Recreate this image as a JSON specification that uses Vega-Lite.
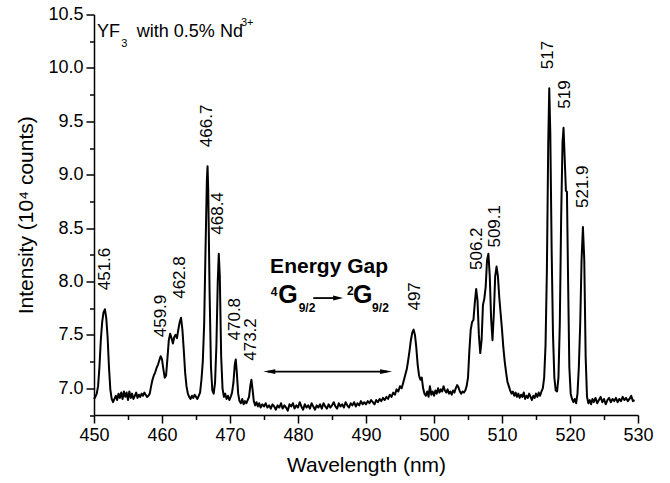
{
  "$schema": "https://vega.github.io/schema/vega-lite/v6.json",
  "width": 544,
  "height": 400.5,
  "autosize": {"type": "none"},
  "padding": {"left": 94, "top": 14.5, "right": 32, "bottom": 68},
  "background": "white",
  "config": {
    "view": {"stroke": null},
    "font": "Liberation Sans",
    "text": {"font": "Liberation Sans", "color": "black"}
  },
  "resolve": {"axis": {"x": "independent", "y": "independent"}},
  "datasets": {
    "spec": [
      {"w":450.0,"i":6.90},{"w":450.2,"i":6.92},{"w":450.4,"i":6.95},{"w":450.6,"i":7.02},{"w":450.8,"i":7.20},{"w":451.0,"i":7.45},{"w":451.2,"i":7.62},{"w":451.4,"i":7.71},{"w":451.6,"i":7.74},{"w":451.8,"i":7.66},{"w":452.0,"i":7.48},{"w":452.2,"i":7.20},{"w":452.4,"i":6.99},{"w":452.6,"i":6.90},{"w":452.8,"i":6.87},
      {"w":453.0,"i":6.90},{"w":453.2,"i":6.93},{"w":453.4,"i":6.89},{"w":453.6,"i":6.95},{"w":453.8,"i":6.91},{"w":454.0,"i":6.96},{"w":454.2,"i":6.90},{"w":454.4,"i":6.97},{"w":454.6,"i":6.92},{"w":454.8,"i":6.96},{"w":455.0,"i":6.89},{"w":455.2,"i":6.97},{"w":455.4,"i":6.91},{"w":455.6,"i":6.95},{"w":455.8,"i":6.90},{"w":456.0,"i":6.93},{"w":456.2,"i":6.96},{"w":456.4,"i":6.91},{"w":456.6,"i":6.94},{"w":456.8,"i":6.92},{"w":457.0,"i":6.95},{"w":457.2,"i":6.93},{"w":457.4,"i":6.96},{"w":457.6,"i":6.94},{"w":457.8,"i":6.92},{"w":458.0,"i":6.93},{"w":458.2,"i":6.95},
      {"w":458.4,"i":7.02},{"w":458.6,"i":7.08},{"w":458.8,"i":7.12},{"w":459.0,"i":7.15},{"w":459.2,"i":7.19},{"w":459.4,"i":7.22},{"w":459.6,"i":7.26},{"w":459.8,"i":7.30},{"w":460.0,"i":7.27},{"w":460.2,"i":7.18},{"w":460.4,"i":7.10},{"w":460.6,"i":7.12},{"w":460.8,"i":7.28},{"w":461.0,"i":7.45},{"w":461.2,"i":7.51},{"w":461.4,"i":7.47},{"w":461.6,"i":7.42},{"w":461.8,"i":7.48},{"w":462.0,"i":7.50},{"w":462.2,"i":7.47},{"w":462.4,"i":7.55},{"w":462.6,"i":7.62},{"w":462.8,"i":7.66},{"w":463.0,"i":7.55},{"w":463.2,"i":7.36},{"w":463.4,"i":7.15},{"w":463.6,"i":7.02},{"w":463.8,"i":6.95},
      {"w":464.0,"i":6.92},{"w":464.2,"i":6.90},{"w":464.4,"i":6.93},{"w":464.6,"i":6.91},{"w":464.8,"i":6.94},{"w":465.0,"i":6.92},{"w":465.2,"i":6.90},{"w":465.4,"i":6.93},{"w":465.6,"i":6.96},{"w":465.8,"i":7.08},{"w":466.0,"i":7.25},{"w":466.2,"i":7.60},{"w":466.4,"i":8.30},{"w":466.6,"i":8.95},{"w":466.7,"i":9.08},{"w":466.8,"i":8.85},{"w":467.0,"i":7.90},{"w":467.2,"i":7.20},{"w":467.4,"i":6.98},{"w":467.6,"i":6.95},{"w":467.8,"i":7.05},{"w":468.0,"i":7.40},{"w":468.2,"i":8.00},{"w":468.35,"i":8.26},{"w":468.5,"i":8.05},{"w":468.7,"i":7.30},{"w":468.9,"i":7.00},
      {"w":469.1,"i":6.92},{"w":469.3,"i":6.95},{"w":469.5,"i":6.90},{"w":469.7,"i":6.93},{"w":469.9,"i":6.89},{"w":470.1,"i":6.92},{"w":470.3,"i":6.96},{"w":470.5,"i":7.05},{"w":470.7,"i":7.22},{"w":470.85,"i":7.27},{"w":471.0,"i":7.15},{"w":471.2,"i":6.95},{"w":471.4,"i":6.88},{"w":471.6,"i":6.86},{"w":471.8,"i":6.90},{"w":472.0,"i":6.85},{"w":472.2,"i":6.88},{"w":472.4,"i":6.86},{"w":472.6,"i":6.89},{"w":472.8,"i":6.92},{"w":473.0,"i":7.03},{"w":473.15,"i":7.08},{"w":473.3,"i":7.00},{"w":473.5,"i":6.88},{"w":473.7,"i":6.84},{"w":473.9,"i":6.87},
      {"w":474.1,"i":6.83},{"w":474.3,"i":6.86},{"w":474.5,"i":6.82},{"w":474.75,"i":6.85},{"w":475.0,"i":6.83},{"w":475.25,"i":6.86},{"w":475.5,"i":6.82},{"w":475.75,"i":6.84},{"w":476.0,"i":6.81},{"w":476.25,"i":6.85},{"w":476.5,"i":6.83},{"w":476.75,"i":6.80},{"w":477.0,"i":6.84},{"w":477.25,"i":6.82},{"w":477.5,"i":6.86},{"w":477.75,"i":6.81},{"w":478.0,"i":6.84},{"w":478.25,"i":6.82},{"w":478.5,"i":6.79},{"w":478.75,"i":6.85},{"w":479.0,"i":6.83},{"w":479.25,"i":6.86},{"w":479.5,"i":6.81},{"w":479.75,"i":6.84},
      {"w":480.0,"i":6.82},{"w":480.25,"i":6.87},{"w":480.5,"i":6.83},{"w":480.75,"i":6.80},{"w":481.0,"i":6.85},{"w":481.25,"i":6.82},{"w":481.5,"i":6.84},{"w":481.75,"i":6.81},{"w":482.0,"i":6.86},{"w":482.25,"i":6.83},{"w":482.5,"i":6.80},{"w":482.75,"i":6.84},{"w":483.0,"i":6.82},{"w":483.25,"i":6.85},{"w":483.5,"i":6.81},{"w":483.75,"i":6.86},{"w":484.0,"i":6.83},{"w":484.25,"i":6.81},{"w":484.5,"i":6.85},{"w":484.75,"i":6.82},{"w":485.0,"i":6.84},{"w":485.25,"i":6.87},{"w":485.5,"i":6.83},{"w":485.75,"i":6.81},
      {"w":486.0,"i":6.86},{"w":486.25,"i":6.83},{"w":486.5,"i":6.85},{"w":486.75,"i":6.82},{"w":487.0,"i":6.87},{"w":487.25,"i":6.84},{"w":487.5,"i":6.82},{"w":487.75,"i":6.86},{"w":488.0,"i":6.84},{"w":488.25,"i":6.87},{"w":488.5,"i":6.83},{"w":488.75,"i":6.86},{"w":489.0,"i":6.84},{"w":489.25,"i":6.88},{"w":489.5,"i":6.85},{"w":489.75,"i":6.87},{"w":490.0,"i":6.85},{"w":490.25,"i":6.88},{"w":490.5,"i":6.86},{"w":490.75,"i":6.89},{"w":491.0,"i":6.87},{"w":491.25,"i":6.85},{"w":491.5,"i":6.89},{"w":491.75,"i":6.87},
      {"w":492.0,"i":6.90},{"w":492.25,"i":6.88},{"w":492.5,"i":6.91},{"w":492.75,"i":6.89},{"w":493.0,"i":6.92},{"w":493.25,"i":6.90},{"w":493.5,"i":6.94},{"w":493.75,"i":6.92},{"w":494.0,"i":6.96},{"w":494.25,"i":6.94},{"w":494.5,"i":6.99},{"w":494.75,"i":6.97},{"w":495.0,"i":7.02},{"w":495.25,"i":7.00},{"w":495.5,"i":7.06},{"w":495.75,"i":7.12},{"w":496.0,"i":7.18},{"w":496.2,"i":7.26},{"w":496.4,"i":7.35},{"w":496.6,"i":7.45},{"w":496.8,"i":7.52},{"w":497.0,"i":7.55},{"w":497.2,"i":7.50},{"w":497.4,"i":7.38},{"w":497.6,"i":7.22},{"w":497.8,"i":7.12},{"w":498.0,"i":7.08},{"w":498.2,"i":7.10},{"w":498.4,"i":7.00},{"w":498.6,"i":6.95},{"w":498.8,"i":6.93},
      {"w":499.0,"i":6.97},{"w":499.2,"i":6.92},{"w":499.4,"i":7.02},{"w":499.6,"i":6.94},{"w":499.8,"i":6.97},{"w":500.0,"i":6.93},{"w":500.2,"i":6.98},{"w":500.4,"i":6.95},{"w":500.6,"i":7.00},{"w":500.8,"i":6.96},{"w":501.0,"i":6.99},{"w":501.2,"i":6.97},{"w":501.4,"i":7.02},{"w":501.6,"i":6.98},{"w":501.8,"i":6.96},{"w":502.0,"i":6.99},{"w":502.2,"i":6.95},{"w":502.4,"i":6.97},{"w":502.6,"i":6.94},{"w":502.8,"i":6.98},{"w":503.0,"i":6.96},{"w":503.2,"i":7.00},{"w":503.4,"i":7.03},{"w":503.6,"i":7.01},{"w":503.8,"i":6.97},{"w":504.0,"i":6.95},{"w":504.2,"i":6.97},{"w":504.4,"i":6.96},{"w":504.6,"i":6.98},{"w":504.8,"i":7.02},
      {"w":505.0,"i":7.10},{"w":505.2,"i":7.35},{"w":505.4,"i":7.55},{"w":505.6,"i":7.62},{"w":505.8,"i":7.64},{"w":506.0,"i":7.80},{"w":506.2,"i":7.93},{"w":506.4,"i":7.82},{"w":506.6,"i":7.50},{"w":506.8,"i":7.33},{"w":507.0,"i":7.45},{"w":507.2,"i":7.78},{"w":507.4,"i":7.84},{"w":507.6,"i":7.95},{"w":507.8,"i":8.20},{"w":508.0,"i":8.26},{"w":508.2,"i":8.05},{"w":508.4,"i":7.65},{"w":508.6,"i":7.45},{"w":508.8,"i":7.70},{"w":509.0,"i":8.05},{"w":509.2,"i":8.14},{"w":509.4,"i":8.05},{"w":509.6,"i":7.85},{"w":509.8,"i":7.70},{"w":510.0,"i":7.55},{"w":510.2,"i":7.38},{"w":510.4,"i":7.25},{"w":510.6,"i":7.15},{"w":510.8,"i":7.06},
      {"w":511.0,"i":7.02},{"w":511.2,"i":6.98},{"w":511.4,"i":6.95},{"w":511.6,"i":6.97},{"w":511.8,"i":6.93},{"w":512.0,"i":6.96},{"w":512.2,"i":6.92},{"w":512.4,"i":6.95},{"w":512.6,"i":6.91},{"w":512.8,"i":6.94},{"w":513.0,"i":6.92},{"w":513.2,"i":6.96},{"w":513.4,"i":6.90},{"w":513.6,"i":6.93},{"w":513.8,"i":6.91},{"w":514.0,"i":6.95},{"w":514.2,"i":6.92},{"w":514.4,"i":6.89},{"w":514.6,"i":6.93},{"w":514.8,"i":6.91},{"w":515.0,"i":6.95},{"w":515.2,"i":6.92},{"w":515.4,"i":6.96},{"w":515.6,"i":6.93},{"w":515.8,"i":6.97},
      {"w":516.0,"i":7.00},{"w":516.2,"i":7.10},{"w":516.4,"i":7.40},{"w":516.6,"i":8.10},{"w":516.8,"i":9.30},{"w":516.95,"i":9.81},{"w":517.1,"i":9.40},{"w":517.3,"i":8.30},{"w":517.5,"i":7.50},{"w":517.7,"i":7.10},{"w":517.9,"i":6.98},{"w":518.1,"i":6.97},{"w":518.3,"i":7.10},{"w":518.5,"i":7.60},{"w":518.7,"i":8.60},{"w":518.9,"i":9.30},{"w":519.05,"i":9.44},{"w":519.25,"i":9.10},{"w":519.4,"i":8.85},{"w":519.55,"i":8.84},{"w":519.7,"i":8.10},{"w":519.9,"i":7.20},
      {"w":520.1,"i":6.95},{"w":520.3,"i":6.90},{"w":520.5,"i":6.87},{"w":520.7,"i":6.90},{"w":520.9,"i":6.86},{"w":521.1,"i":6.95},{"w":521.3,"i":7.20},{"w":521.5,"i":7.60},{"w":521.7,"i":8.20},{"w":521.9,"i":8.51},{"w":522.1,"i":8.20},{"w":522.3,"i":7.30},{"w":522.5,"i":6.92},{"w":522.7,"i":6.86},{"w":522.9,"i":6.89},
      {"w":523.1,"i":6.85},{"w":523.3,"i":6.90},{"w":523.5,"i":6.87},{"w":523.75,"i":6.91},{"w":524.0,"i":6.86},{"w":524.25,"i":6.89},{"w":524.5,"i":6.92},{"w":524.75,"i":6.87},{"w":525.0,"i":6.90},{"w":525.25,"i":6.85},{"w":525.5,"i":6.89},{"w":525.75,"i":6.91},{"w":526.0,"i":6.87},{"w":526.25,"i":6.90},{"w":526.5,"i":6.88},{"w":526.75,"i":6.91},{"w":527.0,"i":6.87},{"w":527.25,"i":6.90},{"w":527.5,"i":6.88},{"w":527.75,"i":6.92},{"w":528.0,"i":6.89},{"w":528.25,"i":6.91},{"w":528.5,"i":6.88},{"w":528.75,"i":6.90},{"w":529.0,"i":6.93},{"w":529.25,"i":6.88},{"w":529.5,"i":6.89}
    ],
    "peaks": [
      {"w":451.6,"i":7.74,"t":"451.6"},{"w":459.9,"i":7.30,"t":"459.9"},{"w":462.7,"i":7.66,"t":"462.8"},{"w":466.6,"i":9.08,"t":"466.7"},{"w":468.25,"i":8.26,"t":"468.4"},{"w":470.75,"i":7.27,"t":"470.8"},{"w":473.05,"i":7.08,"t":"473.2"},{"w":497.2,"i":7.55,"t":"497"},{"w":506.3,"i":7.93,"t":"506.2"},{"w":509.0,"i":8.14,"t":"509.1"},{"w":516.8,"i":9.81,"t":"517"},{"w":519.3,"i":9.44,"t":"519"},{"w":521.9,"i":8.51,"t":"521.9"}
    ]
  },
  "layer": [
    {
      "data": {"name": "spec"},
      "mark": {"type": "line", "color": "black", "strokeWidth": 2, "strokeJoin": "round"},
      "encoding": {
        "x": {
          "field": "w", "type": "quantitative",
          "scale": {"domain": [450, 530], "nice": false, "zero": false},
          "axis": {
            "orient": "bottom",
            "title": "Wavelength (nm)",
            "values": [450,460,470,480,490,500,510,520,530],
            "tickSize": 8,
            "grid": false, "domainColor": "black", "domainWidth": 1.5, "tickColor": "black", "tickWidth": 1.5,
            "labelFontSize": 18, "labelColor": "black", "labelFont": "Liberation Sans", "labelPadding": 3,
            "labelFlush": false, "labelOverlap": false,
            "titleFontSize": 21, "titleFontWeight": "normal", "titleColor": "black", "titleFont": "Liberation Sans", "titlePadding": 10
          }
        },
        "y": {
          "field": "i", "type": "quantitative",
          "scale": {"domain": [6.75, 10.5], "nice": false, "zero": false},
          "axis": {
            "orient": "left",
            "title": "Intensity (10⁴ counts)",
            "values": [7,7.5,8,8.5,9,9.5,10,10.5],
            "format": ".1f",
            "tickSize": 8,
            "grid": false, "domainColor": "black", "domainWidth": 1.5, "tickColor": "black", "tickWidth": 1.5,
            "labelFontSize": 18, "labelColor": "black", "labelFont": "Liberation Sans", "labelPadding": 3,
            "labelFlush": false, "labelOverlap": false,
            "titleFontSize": 21, "titleFontWeight": "normal", "titleColor": "black", "titleFont": "Liberation Sans", "titlePadding": 11
          }
        }
      }
    },
    {
      "data": {"name": "peaks"},
      "mark": {"type": "text", "angle": 270, "align": "left", "baseline": "middle", "dx": 19, "fontSize": 17},
      "encoding": {
        "x": {
          "field": "w", "type": "quantitative",
          "axis": {"orient": "bottom", "values": [455,465,475,485,495,505,515,525], "labels": false, "title": null, "domain": false, "grid": false, "tickSize": 4.5, "tickColor": "black", "tickWidth": 1.5}
        },
        "y": {
          "field": "i", "type": "quantitative",
          "axis": {"orient": "left", "values": [6.75,7.25,7.75,8.25,8.75,9.25,9.75,10.25], "labels": false, "title": null, "domain": false, "grid": false, "tickSize": 4.5, "tickColor": "black", "tickWidth": 1.5}
        },
        "text": {"field": "t"}
      }
    },
    {
      "data": {"values": [{"w": 450.44, "i": 10.29, "t": "YF"}, {"w": 456.3, "i": 10.29, "t": "with 0.5% Nd"}]},
      "mark": {"type": "text", "align": "left", "baseline": "alphabetic", "fontSize": 18},
      "encoding": {
        "x": {"field": "w", "type": "quantitative", "axis": null},
        "y": {"field": "i", "type": "quantitative", "axis": null},
        "text": {"field": "t"}
      }
    },
    {
      "data": {"values": [{"w": 454.0, "i": 10.20, "t": "3"}, {"w": 471.6, "i": 10.39, "t": "3+"}]},
      "mark": {"type": "text", "align": "left", "baseline": "alphabetic", "fontSize": 11},
      "encoding": {
        "x": {"field": "w", "type": "quantitative", "axis": null},
        "y": {"field": "i", "type": "quantitative", "axis": null},
        "text": {"field": "t"}
      }
    },
    {
      "data": {"values": [{"w": 475.9, "i": 8.08, "t": "Energy Gap"}]},
      "mark": {"type": "text", "align": "left", "baseline": "alphabetic", "fontSize": 21, "fontWeight": "bold"},
      "encoding": {
        "x": {"field": "w", "type": "quantitative", "axis": null},
        "y": {"field": "i", "type": "quantitative", "axis": null},
        "text": {"field": "t"}
      }
    },
    {
      "data": {"values": [{"w": 477.1, "i": 7.80, "t": "G"}, {"w": 488.1, "i": 7.80, "t": "G"}]},
      "mark": {"type": "text", "align": "left", "baseline": "alphabetic", "fontSize": 25, "fontWeight": "bold"},
      "encoding": {
        "x": {"field": "w", "type": "quantitative", "axis": null},
        "y": {"field": "i", "type": "quantitative", "axis": null},
        "text": {"field": "t"}
      }
    },
    {
      "data": {"values": [{"w": 476.0, "i": 7.86, "t": "4"}, {"w": 487.2, "i": 7.87, "t": "2"}, {"w": 480.1, "i": 7.71, "t": "9/2"}, {"w": 490.9, "i": 7.71, "t": "9/2"}]},
      "mark": {"type": "text", "align": "left", "baseline": "alphabetic", "fontSize": 12, "fontWeight": "bold"},
      "encoding": {
        "x": {"field": "w", "type": "quantitative", "axis": null},
        "y": {"field": "i", "type": "quantitative", "axis": null},
        "text": {"field": "t"}
      }
    },
    {
      "data": {"values": [{"w": 475.6, "w2": 493.1, "i": 7.157}, {"w": 482.25, "w2": 485.9, "i": 7.845}]},
      "mark": {"type": "rule", "color": "black", "strokeWidth": 1.8},
      "encoding": {
        "x": {"field": "w", "type": "quantitative", "axis": null},
        "x2": {"field": "w2"},
        "y": {"field": "i", "type": "quantitative", "axis": null}
      }
    },
    {
      "data": {"values": [{"w": 492.95, "i": 7.157}]},
      "mark": {"type": "point", "shape": "M -1 -0.4 L 1 0 L -1 0.4 Z", "size": 144, "filled": true, "color": "black", "opacity": 1, "strokeWidth": 0},
      "encoding": {
        "x": {"field": "w", "type": "quantitative", "axis": null},
        "y": {"field": "i", "type": "quantitative", "axis": null}
      }
    },
    {
      "data": {"values": [{"w": 475.78, "i": 7.157}]},
      "mark": {"type": "point", "shape": "M 1 -0.4 L -1 0 L 1 0.4 Z", "size": 144, "filled": true, "color": "black", "opacity": 1, "strokeWidth": 0},
      "encoding": {
        "x": {"field": "w", "type": "quantitative", "axis": null},
        "y": {"field": "i", "type": "quantitative", "axis": null}
      }
    },
    {
      "data": {"values": [{"w": 485.9, "i": 7.845}]},
      "mark": {"type": "point", "shape": "M -1 -0.5 L 1 0 L -1 0.5 Z", "size": 100, "filled": true, "color": "black", "opacity": 1, "strokeWidth": 0},
      "encoding": {
        "x": {"field": "w", "type": "quantitative", "axis": null},
        "y": {"field": "i", "type": "quantitative", "axis": null}
      }
    }
  ]
}
